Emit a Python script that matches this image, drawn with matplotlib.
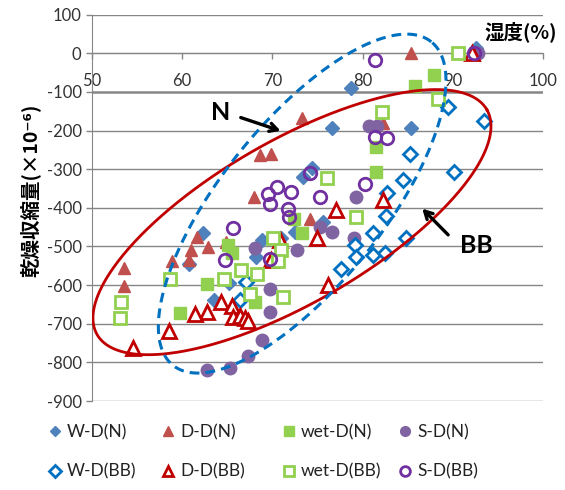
import numpy as np
import matplotlib
matplotlib.use("Agg")
import matplotlib.pyplot as plt
from matplotlib.lines import Line2D

# ---------------- data ----------------
wd_n_x = [92.6, 78.7, 76.6, 85.4, 74.4, 73.4, 75.6, 72.5, 71.0, 68.8, 68.2, 62.3, 60.7, 63.5, 65.2]
wd_n_y = [13, -91, -193, -193, -298, -320, -436, -462, -479, -484, -527, -465, -546, -638, -594]

dd_n_x = [85.4, 73.3, 82.3, 68.6, 69.9, 68.0, 74.2, 61.6, 62.9, 61.0, 60.8, 58.9, 53.5, 53.5, 64.9, 92.0]
dd_n_y = [0, -168, -180, -263, -261, -373, -428, -475, -501, -510, -535, -537, -557, -603, -488, 0]

wet_n_x = [87.9, 85.8, 81.5, 81.5, 72.4, 73.3, 65.1, 65.5, 62.7, 59.8, 68.1]
wet_n_y = [-56, -85, -242, -307, -430, -465, -497, -517, -597, -673, -643]

sd_n_x = [92.8, 80.7, 81.6, 79.3, 75.3, 76.6, 79.0, 72.7, 68.1, 69.7, 69.7, 68.8, 67.3, 65.3, 62.7]
sd_n_y = [0, -187, -189, -373, -449, -462, -479, -510, -504, -609, -670, -743, -783, -814, -820]

wd_bb_x = [89.5, 93.5, 85.3, 90.1, 84.5, 82.7, 82.6, 81.2, 84.8, 81.2, 82.5, 79.2, 79.3, 77.6, 67.1, 66.4]
wd_bb_y = [-138, -176, -261, -307, -328, -361, -422, -465, -479, -523, -518, -497, -527, -558, -592, -638]

dd_bb_x = [92.1, 82.3, 77.1, 74.9, 70.8, 69.8, 76.2, 64.3, 65.5, 62.7, 61.4, 65.6, 66.4, 67.0, 67.3, 58.5, 54.6]
dd_bb_y = [0, -380, -406, -479, -484, -535, -600, -645, -654, -669, -674, -682, -680, -686, -694, -718, -763]

wet_bb_x = [90.6, 88.4, 82.1, 76.0, 79.3, 70.1, 71.0, 70.6, 68.3, 66.5, 64.6, 58.7, 67.5, 71.2, 53.2, 53.1]
wet_bb_y = [0, -117, -151, -324, -423, -479, -510, -538, -572, -560, -583, -583, -624, -630, -643, -684]

sd_bb_x = [92.3, 81.4, 81.4, 82.7, 80.3, 74.2, 72.1, 75.3, 70.5, 69.5, 69.7, 71.7, 71.8, 65.6, 64.7, 69.7]
sd_bb_y = [0, -16, -216, -218, -339, -311, -360, -371, -345, -363, -390, -402, -423, -451, -535, -533]

x_ticks = [50, 60, 70, 80, 90, 100]
y_ticks = [100, 0, -100, -200, -300, -400, -500, -600, -700, -800, -900]

# ---------------- figure ----------------
W, H = 565, 490
fig = plt.figure(figsize=(W / 100, H / 100), dpi=100)
ax_l, ax_r, ax_t, ax_b = 92, 543, 14.7, 401
ax = fig.add_axes([ax_l / W, 1 - ax_b / H, (ax_r - ax_l) / W, (ax_b - ax_t) / H])
ax.set_xlim(50, 100)
ax.set_ylim(-900, 100)

grid_c = "#868686"
for yv in y_ticks:
    ax.axhline(yv, color=grid_c, lw=1.8 if yv == -100 else 1.0, zorder=0)

for s in ["top", "right"]:
    ax.spines[s].set_visible(False)
ax.spines["left"].set_color(grid_c)
ax.spines["bottom"].set_color(grid_c)
ax.spines["bottom"].set_position(("data", 0))
ax.set_xticks(x_ticks)
ax.set_yticks(y_ticks)
ax.tick_params(axis="both", colors=grid_c, direction="out", length=4, width=1,
               labelsize=12, labelcolor="#333333")
ax.tick_params(axis="x", pad=10)
ax.set_yticklabels([str(v) if v >= 0 else "-" + str(-v) for v in y_ticks])
for lab in ax.get_xticklabels() + ax.get_yticklabels():
    lab.set_family("Lato")

# ---------------- series ----------------
c_wdn, c_ddn, c_wet, c_sdn = "#4F81BD", "#C0504D", "#92D050", "#8064A2"
c_wdbb, c_ddbb, c_sdbb = "#0070C0", "#C00000", "#7030A0"

ax.plot(wd_n_x, wd_n_y, ls="none", marker="D", ms=7, mfc=c_wdn, mec=c_wdn, zorder=3)
ax.plot(dd_n_x, dd_n_y, ls="none", marker="^", ms=9, mfc=c_ddn, mec=c_ddn, zorder=3)
ax.plot(wet_n_x, wet_n_y, ls="none", marker="s", ms=8.5, mfc=c_wet, mec=c_wet, zorder=3)
ax.plot(sd_n_x, sd_n_y, ls="none", marker="o", ms=9, mfc=c_sdn, mec=c_sdn, zorder=3)
ax.plot(wd_bb_x, wd_bb_y, ls="none", marker="D", ms=7, mfc="white", mec=c_wdbb, mew=2, zorder=3)
ax.plot(dd_bb_x, dd_bb_y, ls="none", marker="^", ms=9.5, mfc="white", mec=c_ddbb, mew=2, zorder=3)
ax.plot(wet_bb_x, wet_bb_y, ls="none", marker="s", ms=8.5, mfc="white", mec=c_wet, mew=2, zorder=3)
ax.plot(sd_bb_x, sd_bb_y, ls="none", marker="o", ms=9, mfc="none", mec=c_sdbb, mew=2, zorder=3)

# ---------------- ellipses (annotation) ----------------
ppx = (ax_r - ax_l) / 50.0
ppy = (ax_b - ax_t) / 1000.0

def ellipse(cx, cy, a, b, ang):
    t = np.linspace(0, 2 * np.pi, 500)
    th = np.deg2rad(ang)
    u, v = a * np.cos(t), b * np.sin(t)
    dx = u * np.cos(th) - v * np.sin(th)
    dy = u * np.sin(th) + v * np.cos(th)
    return cx + dx / ppx, cy + dy / ppy

ex, ey = ellipse(72.17, -437, 225, 81, 30)
ax.plot(ex, ey, color=c_ddbb, lw=2, zorder=4)
ex, ey = ellipse(73.3, -389, 207, 81, 51.4)
ax.plot(ex, ey, color=c_wdbb, lw=2.2, ls=(0, (3.2, 2)), zorder=4)

# ---------------- annotations ----------------
ax.annotate("", xy=(71.2, -203), xytext=(66.2, -164),
            arrowprops=dict(arrowstyle="->,head_length=0.55,head_width=0.3", color="black", lw=2.4),
            zorder=5)
ax.text(64.3, -152, "N", fontsize=18, fontweight="bold", family="Lato", ha="center", va="center")
ax.annotate("", xy=(86.4, -397), xytext=(89.7, -475),
            arrowprops=dict(arrowstyle="->,head_length=0.55,head_width=0.3", color="black", lw=2.4),
            zorder=5)
ax.text(92.6, -497, "BB", fontsize=18, fontweight="bold", family="Lato", ha="center", va="center")

ax.text(101.5, 56, "湿度(%)", fontsize=14, fontweight="bold", ha="right", va="center",
        family=["Noto Sans CJK JP", "DejaVu Sans"], clip_on=False)
fig.text(30 / W, 1 - 190 / H, "乾燥収縮量(×10⁻⁶)", rotation=90, fontsize=14, fontweight="bold",
         ha="center", va="center", family=["Noto Sans CJK JP", "DejaVu Sans"])

# ---------------- legend ----------------
def h(marker, ms, fc, ec, mew=1):
    return Line2D([], [], ls="none", marker=marker, ms=ms, mfc=fc, mec=ec, mew=mew)

cols = [
    (48, [h("D", 5, c_wdn, c_wdn), h("D", 6, "white", c_wdbb, 2)], ["W-D(N)", "W-D(BB)"]),
    (161, [h("^", 7, c_ddn, c_ddn), h("^", 7.5, "white", c_ddbb, 2)], ["D-D(N)", "D-D(BB)"]),
    (282, [h("s", 7, c_wet, c_wet), h("s", 7, "white", c_wet, 2)], ["wet-D(N)", "wet-D(BB)"]),
    (398, [h("o", 7, c_sdn, c_sdn), h("o", 7, "none", c_sdbb, 2)], ["S-D(N)", "S-D(BB)"]),
]
for x0, hs, ls in cols:
    lg = fig.legend(hs, ls, loc="upper left", bbox_to_anchor=(x0 / W, 1 - 424 / H),
                    frameon=False, borderpad=0, borderaxespad=0, handlelength=0.8,
                    handletextpad=0.3, labelspacing=1.35,
                    prop={"family": "Lato", "size": 12.5})
    for t in lg.get_texts():
        t.set_color("#222222")

fig.savefig("out.png", dpi=100)
